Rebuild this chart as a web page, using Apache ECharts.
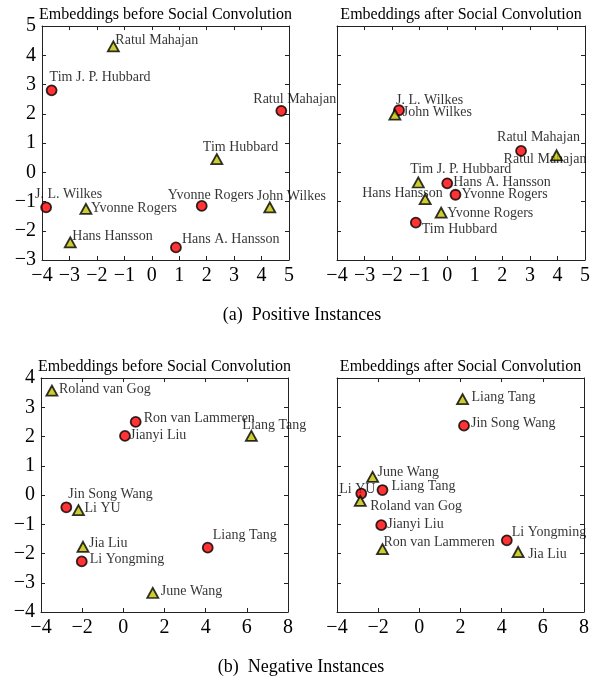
<!DOCTYPE html>
<html>
<head>
<meta charset="utf-8">
<script src="https://cdn.jsdelivr.net/npm/echarts@6/dist/echarts.min.js"></script>
<style>
html,body{margin:0;padding:0;background:#fff;}
#chart{width:595px;height:679px;}
</style>
</head>
<body>
<div id="chart"></div>
<script>
// ---------- DATA ----------
// (a) Positive instances — before social convolution
const posBeforeCircleNames = ["Tim J. P. Hubbard", "Ratul Mahajan", "J. L. Wilkes", "Yvonne Rogers", "Hans A. Hansson"];
const posBeforeCircleX = [-3.65, 4.72, -3.85, 1.82, 0.88];
const posBeforeCircleY = [2.8, 2.1, -1.2, -1.15, -2.57];
const posBeforeTriNames = ["Ratul Mahajan", "Tim Hubbard", "Yvonne Rogers", "John Wilkes", "Hans Hansson"];
const posBeforeTriX = [-1.4, 2.37, -2.4, 4.3, -2.97];
const posBeforeTriY = [4.3, 0.45, -1.25, -1.2, -2.4];
// (a) Positive instances — after social convolution
const posAfterCircleNames = ["J. L. Wilkes", "Ratul Mahajan", "Hans A. Hansson", "Yvonne Rogers", "Tim Hubbard"];
const posAfterCircleX = [-1.75, 2.68, 0.0, 0.3, -1.14];
const posAfterCircleY = [2.12, 0.73, -0.38, -0.77, -1.72];
const posAfterTriNames = ["John Wilkes", "Ratul Mahajan", "Tim J. P. Hubbard", "Hans Hansson", "Yvonne Rogers"];
const posAfterTriX = [-1.9, 3.97, -1.05, -0.8, -0.22];
const posAfterTriY = [1.97, 0.58, -0.35, -0.92, -1.38];
// (b) Negative instances — before social convolution
const negBeforeCircleNames = ["Ron van Lammeren", "Jianyi Liu", "Jin Song Wang", "Li Yongming", "Liang Tang"];
const negBeforeCircleX = [0.6, 0.08, -2.77, -2.02, 4.1];
const negBeforeCircleY = [2.5, 2.02, -0.42, -2.27, -1.8];
const negBeforeTriNames = ["Roland van Gog", "Liang Tang", "Li YU", "Jia Liu", "June Wang"];
const negBeforeTriX = [-3.47, 6.22, -2.18, -1.96, 1.43];
const negBeforeTriY = [3.57, 2.02, -0.52, -1.77, -3.35];
// (b) Negative instances — after social convolution
const negAfterCircleNames = ["Jin Song Wang", "Liang Tang", "Li YU", "Jianyi Liu", "Li Yongming"];
const negAfterCircleX = [2.17, -1.79, -2.82, -1.85, 4.25];
const negAfterCircleY = [2.37, 0.17, 0.05, -1.03, -1.55];
const negAfterTriNames = ["Liang Tang", "June Wang", "Roland van Gog", "Ron van Lammeren", "Jia Liu"];
const negAfterTriX = [2.1, -2.27, -2.87, -1.79, 4.8];
const negAfterTriY = [3.28, 0.62, -0.2, -1.85, -1.95];

const titleBefore = "Embeddings before Social Convolution";
const titleAfter = "Embeddings after Social Convolution";
const captionA = "(a)  Positive Instances";
const captionB = "(b)  Negative Instances";

// ---------- LAYOUT / STYLE ----------
const FONT = '"Liberation Serif", "DejaVu Serif", serif';
const panels = [
  {grid:{left:42, top:26, width:247, height:234}, x:[-4,5,1], y:[-3,5,1], yLabels:true, title:titleBefore,
   c:[posBeforeCircleNames,posBeforeCircleX,posBeforeCircleY], t:[posBeforeTriNames,posBeforeTriX,posBeforeTriY]},
  {grid:{left:337, top:26, width:248, height:234}, x:[-4,5,1], y:[-3,5,1], yLabels:false, title:titleAfter,
   c:[posAfterCircleNames,posAfterCircleX,posAfterCircleY], t:[posAfterTriNames,posAfterTriX,posAfterTriY]},
  {grid:{left:41, top:378, width:247, height:234}, x:[-4,8,2], y:[-4,4,1], yLabels:true, title:titleBefore,
   c:[negBeforeCircleNames,negBeforeCircleX,negBeforeCircleY], t:[negBeforeTriNames,negBeforeTriX,negBeforeTriY]},
  {grid:{left:337, top:378, width:247, height:234}, x:[-4,8,2], y:[-4,4,1], yLabels:false, title:titleAfter,
   c:[negAfterCircleNames,negAfterCircleX,negAfterCircleY], t:[negAfterTriNames,negAfterTriX,negAfterTriY]}
];
// label placement: [dx of text left edge, dy of text middle] relative to marker centre (pixels)
const LABEL_OFFSETS = [
  {"c|Tim J. P. Hubbard":[-2,-13], "c|Ratul Mahajan":[-28,-11], "c|J. L. Wilkes":[-11,-13], "c|Yvonne Rogers":[-34,-11], "c|Hans A. Hansson":[6,-8],
   "t|Ratul Mahajan":[2,-6], "t|Tim Hubbard":[-14,-12], "t|Yvonne Rogers":[5,0], "t|John Wilkes":[-13,-11], "t|Hans Hansson":[2,-6]},
  {"c|J. L. Wilkes":[-3,-10], "c|Ratul Mahajan":[-24,-14], "c|Hans A. Hansson":[6,-1], "c|Yvonne Rogers":[6,0], "c|Tim Hubbard":[6,7],
   "t|John Wilkes":[8,-2], "t|Ratul Mahajan":[-53,4], "t|Tim J. P. Hubbard":[-8,-13], "t|Hans Hansson":[-63,-6], "t|Yvonne Rogers":[6,1]},
  {"c|Ron van Lammeren":[8,-4], "c|Jianyi Liu":[5,-1], "c|Jin Song Wang":[2,-13], "c|Li Yongming":[8,-2], "c|Liang Tang":[5,-12],
   "t|Roland van Gog":[7,-1], "t|Liang Tang":[-9,-11], "t|Li YU":[6,-2], "t|Jia Liu":[6,-3], "t|June Wang":[8,-2]},
  {"c|Jin Song Wang":[7,-2], "c|Liang Tang":[9,-4], "c|Li YU":[-22,-4], "c|Jianyi Liu":[6,-1], "c|Li Yongming":[5,-8],
   "t|Liang Tang":[9,-2], "t|June Wang":[5,-5], "t|Roland van Gog":[10,5], "t|Ron van Lammeren":[1,-7], "t|Jia Liu":[10,2]}
];

function fmt(v){ return v < 0 ? '\u2212' + Math.abs(v) : String(v); }

const grids = [], xAxes = [], yAxes = [], series = [], titles = [];
const lineColor = '#222';

panels.forEach((p, i) => {
  grids.push(Object.assign({show:false, containLabel:false}, p.grid));
  const base = (show, pos) => ({
    type:'value', gridIndex:i, position:pos,
    axisLine:{show:true, onZero:false, lineStyle:{color:lineColor, width:1}},
    axisTick:{show:true, inside:true, length:4, lineStyle:{color:lineColor, width:1}},
    splitLine:{show:false},
    axisLabel:{show:show, fontFamily:FONT, fontSize:20, color:'#000', margin:6, formatter:fmt,
               showMinLabel:true, showMaxLabel:true, hideOverlap:false}
  });
  xAxes.push(Object.assign(base(true,'bottom'), {min:p.x[0], max:p.x[1], interval:p.x[2]}));
  xAxes.push(Object.assign(base(false,'top'), {min:p.x[0], max:p.x[1], interval:p.x[2]}));
  yAxes.push(Object.assign(base(p.yLabels,'left'), {min:p.y[0], max:p.y[1], interval:p.y[2]}));
  yAxes.push(Object.assign(base(false,'right'), {min:p.y[0], max:p.y[1], interval:p.y[2]}));
  const xi = i*2, yi = i*2;
  const offs = LABEL_OFFSETS[i];
  // label layer (drawn below the markers)
  const labelData = [];
  p.c[0].forEach((n,k)=>labelData.push({value:[p.c[1][k], p.c[2][k]], name:n, key:'c|'+n}));
  p.t[0].forEach((n,k)=>labelData.push({value:[p.t[1][k], p.t[2][k]], name:n, key:'t|'+n}));
  series.push({
    type:'scatter', xAxisIndex:xi, yAxisIndex:yi, z:1, silent:true, symbol:'circle', symbolSize:1,
    itemStyle:{color:'transparent'},
    data: labelData.map(d => ({value:d.value, name:d.name,
      label:{show:true, position:'inside', align:'left', verticalAlign:'middle', offset:offs[d.key] || [6,0],
             formatter:d.name, fontFamily:FONT, fontSize:14, color:'#000'}}))
  });
  series.push({
    type:'scatter', xAxisIndex:xi, yAxisIndex:yi, z:3, silent:true, symbol:'circle', symbolSize:10,
    itemStyle:{color:'#ff0000', borderColor:'#000', borderWidth:1.8},
    data: p.c[0].map((n,k)=>({value:[p.c[1][k], p.c[2][k]], name:n}))
  });
  series.push({
    type:'scatter', xAxisIndex:xi, yAxisIndex:yi, z:4, silent:true, symbol:'triangle', symbolSize:[11,10],
    itemStyle:{color:'#bfbf00', borderColor:'#000', borderWidth:1.8},
    data: p.t[0].map((n,k)=>({value:[p.t[1][k], p.t[2][k]], name:n}))
  });
  titles.push({text:p.title, left:p.grid.left + p.grid.width/2, top:p.grid.top - 19, textAlign:'center', padding:0,
    textStyle:{fontFamily:FONT, fontSize:16, fontWeight:'normal', color:'#000', lineHeight:16}});
});
titles.push({text:captionA, left:302, top:306, textAlign:'center', padding:0,
  textStyle:{fontFamily:FONT, fontSize:18, fontWeight:'normal', color:'#000', lineHeight:18}});
titles.push({text:captionB, left:301, top:658, textAlign:'center', padding:0,
  textStyle:{fontFamily:FONT, fontSize:18, fontWeight:'normal', color:'#000', lineHeight:18}});

const chart = echarts.init(document.getElementById('chart'), null, {renderer:'canvas'});
chart.setOption({
  backgroundColor:'#fff', animation:false,
  title:titles, grid:grids, xAxis:xAxes, yAxis:yAxes, series:series
});
</script>
</body>
</html>
